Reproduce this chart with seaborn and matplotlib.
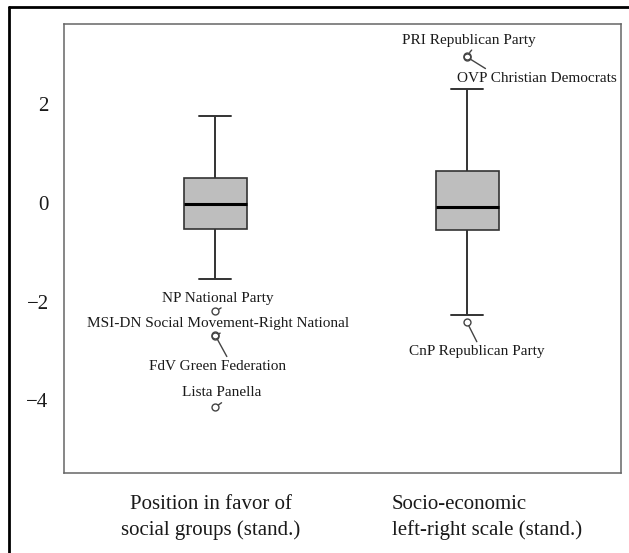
import numpy as np
import pandas as pd
import matplotlib
matplotlib.use('Agg')
import matplotlib.pyplot as plt
import matplotlib.transforms as mtransforms
from matplotlib.lines import Line2D
import seaborn as sns

# party scores (standardised), one list per scale
social_groups = [-4.14, -2.70, -2.68, -2.20, -1.54, -0.53, -0.45, -0.32, -0.20, -0.10,
                 -0.03, 0.05, 0.15, 0.28, 0.40, 0.50, 0.62, 0.85, 1.10, 1.40, 1.76]
left_right = [-2.42, -2.28, -1.80, -1.20, -0.80, -0.55, -0.45, -0.35, -0.25, -0.15,
              -0.08, 0.02, 0.15, 0.30, 0.48, 0.64, 0.95, 1.50, 2.30, 2.95, 2.98]
scale_labels = ['Position in favor of\nsocial groups (stand.)',
                'Socio-economic\nleft-right scale (stand.)']

# labelled outliers: party, scale index, score
outlier_names = ['NP National Party', 'MSI-DN Social Movement-Right National',
                 'FdV Green Federation', 'Lista Panella',
                 'PRI Republican Party', 'OVP Christian Democrats', 'CnP Republican Party']
outlier_scale = [0, 0, 0, 0, 1, 1, 1]
outlier_value = [-2.20, -2.70, -2.68, -4.14, 2.98, 2.95, -2.42]

# where each label sits (data coords) and where its leader line leaves the text
label_pos = [(0.01, -1.93), (0.01, -2.44), (0.01, -3.31), (0.025, -3.85),
             (1.008, 3.29), (1.278, 2.52), (1.04, -3.01)]
label_rel = [(0.58, 0), (0.53, 0), (0.58, 1), (0.56, 0),
             (0.54, 0), (0.21, 1), (0.51, 1)]

sns.set_style('white')
plt.rcParams['font.family'] = ['Liberation Serif', 'DejaVu Serif']
plt.rcParams['axes.unicode_minus'] = True

df = pd.DataFrame({scale_labels[0]: social_groups, scale_labels[1]: left_right})

fig, ax = plt.subplots(figsize=(6.29, 5.53), dpi=100)
fig.subplots_adjust(left=0.1017, right=0.9868, bottom=0.1447, top=0.9566)

sns.boxplot(data=df, ax=ax, width=0.25, color='#bebebe', linecolor='#333333',
            linewidth=1.2, fliersize=5, whis=1.5,
            medianprops=dict(color='black', linewidth=2.2),
            whiskerprops=dict(color='#333333', linewidth=1.4),
            capprops=dict(color='#333333', linewidth=1.4),
            flierprops=dict(marker='o', markerfacecolor='none',
                            markeredgecolor='#444444', markeredgewidth=1.0))

for name, xi, val, pos, rel in zip(outlier_names, outlier_scale, outlier_value,
                                   label_pos, label_rel):
    ax.annotate(name, xy=(xi, val), xytext=pos, textcoords='data',
                ha='center', va='center', fontsize=11, color='#1a1a1a',
                arrowprops=dict(arrowstyle='-', color='#444444', lw=1.0,
                                relpos=rel, shrinkA=0, shrinkB=3))

ax.set_xlim(-0.6, 1.61)
ax.set_ylim(-5.47, 3.62)
ax.set_yticks([-4, -2, 0, 2])
ax.set_xlabel('')
ax.set_ylabel('')
ax.tick_params(axis='both', which='major', length=5, width=1, color='#555555',
               labelsize=15, labelcolor='#1a1a1a')
ax.tick_params(axis='y', pad=6)
ax.tick_params(axis='x', pad=11)
for sp in ax.spines.values():
    sp.set_color('#666666')
    sp.set_linewidth(1.1)

# second scale label is left-aligned in the original
ticks = ax.xaxis.get_major_ticks()
shifts = [-0.04, 0.20]
aligns = ['center', 'left']
for t, dx, al in zip(ticks, shifts, aligns):
    lab = t.label1
    lab.set_multialignment(al)
    lab.set_linespacing(1.4)
    lab.set_transform(lab.get_transform() +
                      mtransforms.ScaledTranslation(dx, 0, fig.dpi_scale_trans))

# black frame on left and top of the figure
fig.add_artist(Line2D([9 / 629, 9 / 629], [0, 1 - 6.5 / 553], color='black', lw=2,
                      transform=fig.transFigure))
fig.add_artist(Line2D([9 / 629, 1], [1 - 6.5 / 553, 1 - 6.5 / 553], color='black', lw=2,
                      transform=fig.transFigure))

fig.savefig('out.png', dpi=100)
